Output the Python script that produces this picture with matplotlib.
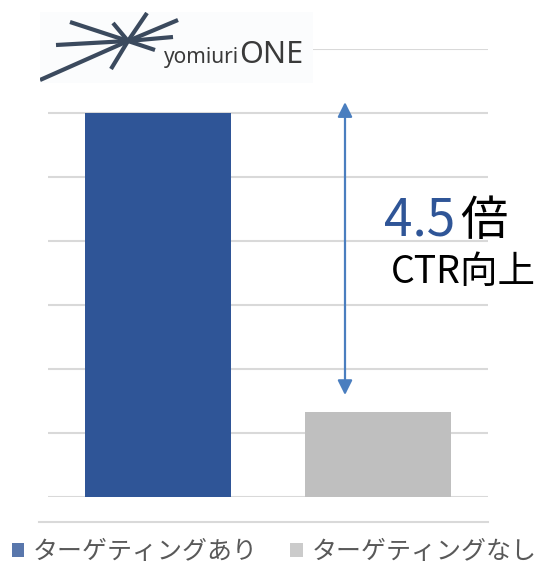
import matplotlib
matplotlib.use("Agg")
import matplotlib.pyplot as plt
from matplotlib.lines import Line2D
from matplotlib.patches import Rectangle

plt.rcParams['font.family'] = ['Noto Sans CJK JP', 'DejaVu Sans']

# データ
categories = ["ターゲティングあり", "ターゲティングなし"]
ctr_values = [6.0, 6.0 / 4.5]
bar_colors = ["#2f5597", "#bfbfbf"]
ratio_label = "4.5倍"
ratio_caption = "CTR向上"

W, H = 543, 564
fig = plt.figure(figsize=(W / 100, H / 100), dpi=100)


def px_box(x0, y0, x1, y1):
    # ピクセル座標 (左上原点) -> figure座標
    return [x0 / W, 1 - y1 / H, (x1 - x0) / W, (y1 - y0) / H]


ax = fig.add_axes(px_box(48, 49, 488, 497))
x = range(len(categories))
bars = ax.bar(x, ctr_values, width=0.66, color=bar_colors, zorder=3)
ax.set_xlim(-0.5, 1.5)
ax.set_ylim(0, 7)
ax.set_yticks(range(0, 8))
ax.yaxis.grid(True, color="#d9d9d9", lw=1.5, zorder=0)
ax.tick_params(left=False, bottom=False, labelleft=False, labelbottom=False)
for s in ax.spines.values():
    s.set_visible(False)

# 倍率の矢印
arrow_x = 0.85
ax.annotate("", xy=(arrow_x, ctr_values[1] + 0.26), xytext=(arrow_x, ctr_values[0] + 0.17),
            arrowprops=dict(arrowstyle="<|-|>", color="#4a7ebf", lw=1.6,
                            mutation_scale=22, shrinkA=0, shrinkB=0), zorder=5)

fig.text(384 / W, 1 - 235 / H, ratio_label[:-1], fontsize=37, color="#2f5597",
         ha="left", va="baseline")
fig.text(460 / W, 1 - 235 / H, ratio_label[-1], fontsize=34, color="black",
         ha="left", va="baseline")
fig.text(391 / W, 1 - 283 / H, ratio_caption, fontsize=27, color="black",
         ha="left", va="baseline")

# 下の枠線
fig.add_artist(Line2D([39 / W, 488 / W], [1 - 522 / H, 1 - 522 / H],
                      color="#d9d9d9", lw=1.5))

# 凡例
leg = fig.legend(bars, categories, loc="center left", bbox_to_anchor=(-6 / W, 1 - 552 / H),
                 ncol=2, frameon=False, fontsize=18, handlelength=0.5,
                 handleheight=0.5, handletextpad=0.35, columnspacing=1.3,
                 labelcolor="#595959", borderpad=0.2)
for h in leg.legend_handles:
    h.set_alpha(0.8)

# ロゴ
logo = fig.add_axes(px_box(40, 12, 313, 83))
logo.set_xlim(0, 273)
logo.set_ylim(71, 0)
logo.axis("off")
logo.add_patch(Rectangle((0, 0), 273, 71, color="#fbfcfd", zorder=0))
cx, cy = 88, 29
rays = [(30, 10), (16, 33), (0, 68), (107, 1), (73, 11), (138, 8), (133, 25),
        (115, 38), (71, 57)]
for ex, ey in rays:
    logo.plot([cx, ex], [cy, ey], color="#3b4a5e", lw=3.0, solid_capstyle="butt")
t1 = logo.text(124, 51, "yomiuri", fontsize=15, color="#3a3a3a", ha="left",
               va="baseline", family=["Noto Sans", "DejaVu Sans"])
# "ONE" は "yomiuri" の直後に置く
renderer = fig.canvas.get_renderer()
bb = t1.get_window_extent(renderer)
x_end = logo.transData.inverted().transform((bb.x1, bb.y0))[0]
logo.text(x_end, 51, "ONE", fontsize=22, color="#3a3a3a", ha="left",
          va="baseline", family=["Noto Sans", "DejaVu Sans"])

fig.savefig("out.png", dpi=100)
